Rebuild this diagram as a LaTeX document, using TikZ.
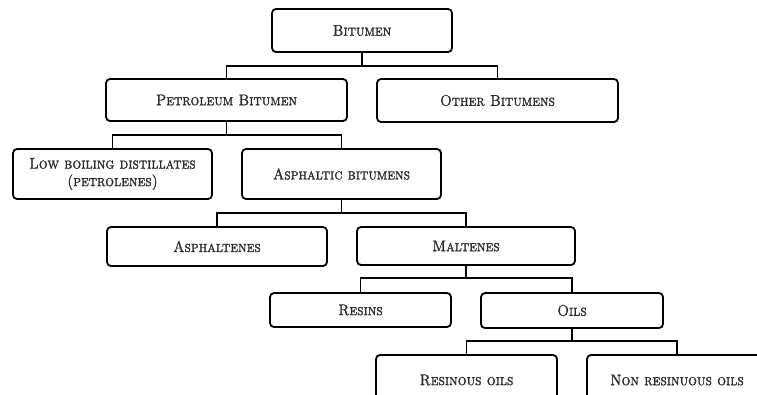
\documentclass[tikz,border=0pt]{standalone}
\usepackage{fontspec}
\newfontfamily\capsfont{Latin Modern Roman Caps}[FakeBold=1.3, FakeStretch=0.9]
\usetikzlibrary{calc}
\definecolor{txt}{HTML}{2A2A2A}
\tikzset{
  box/.style={draw, line width=1.8pt, rounded corners=4pt, inner sep=0pt,
    align=center, font=\fontsize{15.5}{17.5}\capsfont, text=txt},
  link/.style={line width=1.8pt}
}
\begin{document}
\begin{tikzpicture}[x=1pt,y=-1pt]
\useasboundingbox (0,0) rectangle (757,394);
\clip (0,0) rectangle (757,394);
\node[box, minimum width=180pt, minimum height=43pt] (bit) at (362,30.5) {Bitumen};
\node[box, minimum width=241pt, minimum height=42pt] (pet) at (226.5,100) {Petroleum Bitumen};
\node[box, minimum width=241pt, minimum height=43pt] (oth) at (497.5,100.5) {Other Bitumens};
\node[box, minimum width=199pt, minimum height=50pt] (low) at (112.5,174) {Low boiling distillates\\(petrolenes)};
\node[box, minimum width=199pt, minimum height=50pt] (asp) at (341.5,174) {Asphaltic bitumens};
\node[box, minimum width=220pt, minimum height=39pt] (asph) at (217,246.5) {Asphaltenes};
\node[box, minimum width=218pt, minimum height=38pt] (mal) at (466,246) {Maltenes};
\node[box, minimum width=181pt, minimum height=34pt] (res) at (360.5,310) {Resins};
\node[box, minimum width=182pt, minimum height=35pt] (oil) at (572,310.5) {Oils};
\node[box, minimum width=181pt, minimum height=50pt] (roil) at (466.5,380) {Resinous oils};
\node[box, minimum width=180pt, minimum height=50pt] (noil) at (677,380) {Non resinuous oils};
\coordinate (j1) at (362,66);
\coordinate (j2) at (226.5,135);
\coordinate (j3) at (341.5,213);
\coordinate (j4) at (466,278);
\coordinate (j5) at (572,341);
\draw[link] (bit.south) -- (j1);
\draw[link] (pet.north) |- (j1) -| (oth.north);
\draw[link] (pet.south) -- (j2);
\draw[link] (low.north) |- (j2) -| (asp.north);
\draw[link] (asp.south) -- (j3);
\draw[link] (asph.north) |- (j3) -| (mal.north);
\draw[link] (mal.south) -- (j4);
\draw[link] (res.north) |- (j4) -| (oil.north);
\draw[link] (oil.south) -- (j5);
\draw[link] (roil.north) |- (j5) -| (noil.north);
\end{tikzpicture}
\end{document}
